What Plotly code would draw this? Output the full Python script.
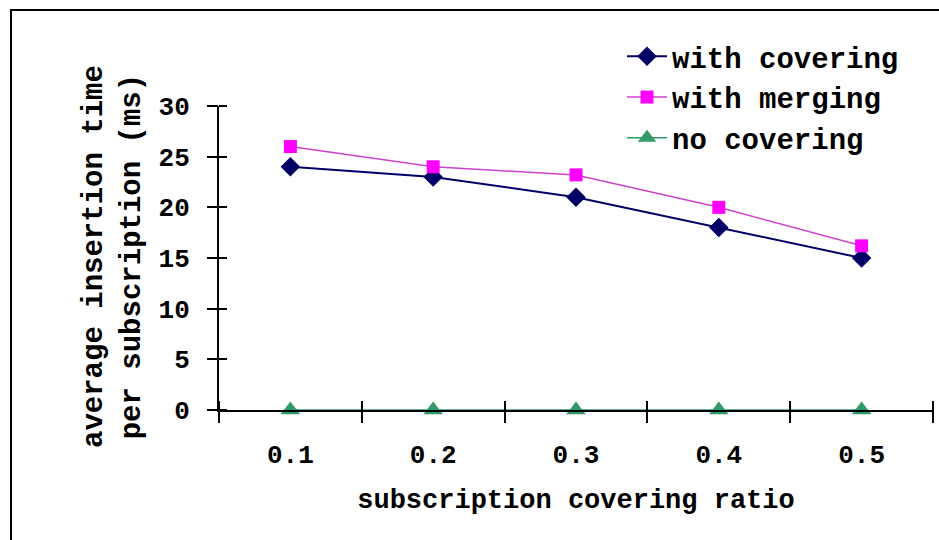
import plotly.graph_objects as go

categories = ["0.1", "0.2", "0.3", "0.4", "0.5"]
with_covering = [24, 23, 21, 18, 15]
with_merging = [26, 24, 23.2, 20, 16.2]
no_covering = [0, 0, 0, 0, 0]
y_ticks = [0, 5, 10, 15, 20, 25, 30]

W, H = 939, 540
L, R, T, B = 219, 6, 106, 130
pw, ph = W - L - R, H - T - B

FONT = "Liberation Mono"
idx = list(range(len(categories)))

fig = go.Figure()
# helper (empty) traces so that the extra tick axes get drawn
for xa, ya in (("x2", "y"), ("x3", "y"), ("x", "y2"), ("x", "y3")):
    fig.add_trace(go.Scatter(x=[None], y=[None], xaxis=xa, yaxis=ya,
                             showlegend=False, hoverinfo="skip", mode="markers"))

fig.add_trace(go.Scatter(
    x=idx, y=with_covering, name="with covering", mode="lines+markers",
    line=dict(color="#000066", width=2),
    marker=dict(symbol="diamond", size=15, color="#000066"),
    cliponaxis=False))
fig.add_trace(go.Scatter(
    x=idx, y=with_merging, name="with merging", mode="lines+markers",
    line=dict(color="#CC44CC", width=1.5),
    marker=dict(symbol="square", size=13, color="#FF00FF"),
    cliponaxis=False))
fig.add_trace(go.Scatter(
    x=idx, y=no_covering, name="no covering", mode="lines+markers",
    line=dict(color="#339966", width=1.5),
    marker=dict(symbol="triangle-up", size=17, color="#339966"),
    cliponaxis=False))

bounds = [i - 0.5 for i in range(len(categories) + 1)]
tickfont = dict(family=FONT, size=26, color="black", weight="bold")
xr = [-0.5, len(categories) - 0.5]

fig.update_layout(
    width=W, height=H,
    margin=dict(l=L, r=R, t=T, b=B, autoexpand=False),
    paper_bgcolor="white", plot_bgcolor="white",
    showlegend=True,
    legend=dict(
        x=(622 - L) / pw, y=(410 - 31) / ph, xanchor="left", yanchor="top",
        bgcolor="rgba(0,0,0,0)",
        font=dict(family=FONT, size=29, color="black", weight="bold"),
        itemwidth=40, tracegroupgap=0,
    ),
    xaxis=dict(
        range=xr, tickmode="array",
        tickvals=idx, ticktext=categories, ticks="", ticklabelstandoff=20,
        showline=True, linecolor="black", linewidth=2,
        showgrid=False, zeroline=False, tickfont=tickfont,
        title=dict(text="subscription covering ratio",
                   font=dict(family=FONT, size=27, color="black", weight="bold"),
                   standoff=19),
    ),
    # lower half of the crossing category-boundary ticks
    xaxis2=dict(
        overlaying="x", anchor="y", side="bottom",
        range=xr, tickmode="array",
        tickvals=bounds, ticks="outside", ticklen=12, tickwidth=2,
        tickcolor="black", showticklabels=False, showgrid=False,
        zeroline=False, showline=False,
    ),
    # upper half: a free axis raised 10 px, ticks hanging down to the x line
    xaxis3=dict(
        overlaying="x", anchor="free", position=10 / ph, side="bottom",
        range=xr, tickmode="array",
        tickvals=bounds, ticks="outside", ticklen=10, tickwidth=2,
        tickcolor="black", showticklabels=False, showgrid=False,
        zeroline=False, showline=False,
    ),
    yaxis=dict(
        range=[0, 30], tickmode="array", tickvals=y_ticks,
        ticks="outside", ticklen=10, tickwidth=2, tickcolor="black",
        ticklabelstandoff=12,
        showline=True, linecolor="black", linewidth=2,
        showgrid=False, zeroline=False, tickfont=tickfont,
    ),
    yaxis2=dict(
        overlaying="y", anchor="free", position=8 / pw, side="left",
        range=[0, 30], tickmode="array", tickvals=y_ticks,
        ticks="outside", ticklen=8, tickwidth=2, tickcolor="black",
        showticklabels=False, showgrid=False, zeroline=False, showline=False,
    ),
    yaxis3=dict(
        overlaying="y", anchor="x", side="left",
        range=[0, 30], tickmode="array", tickvals=y_ticks,
        ticks="outside", ticklen=10, tickwidth=2, tickcolor="black",
        showticklabels=False, showgrid=False, zeroline=False, showline=False,
    ),
    annotations=[dict(
        text="average insertion time<br>per subscription (ms)",
        xref="paper", yref="paper", x=(113 - L) / pw, y=(410 - 257) / ph,
        xanchor="center", yanchor="middle", textangle=-90, showarrow=False,
        font=dict(family=FONT, size=29, color="black", weight="bold"),
    )],
    shapes=[dict(
        type="rect", xref="paper", yref="paper", layer="below",
        x0=(11 - L) / pw, x1=(W + 20 - L) / pw,
        y0=(410 - H - 20) / ph, y1=(410 - 10) / ph,
        line=dict(color="black", width=2), fillcolor="rgba(0,0,0,0)",
    )],
)

fig.write_html("out.html")
